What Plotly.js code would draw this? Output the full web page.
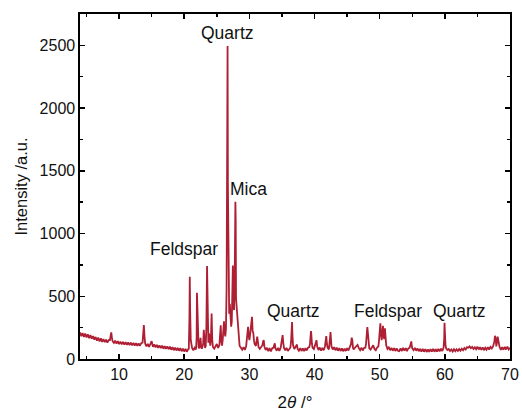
<!DOCTYPE html>
<html>
<head>
<meta charset="utf-8">
<script src="https://cdn.plot.ly/plotly-3.0.1.min.js"></script>
<style>html,body{margin:0;padding:0;background:#fff;}#chart{width:522px;height:412px;}</style>
</head>
<body>
<div id="chart"></div>
<script>
// 2-theta positions (degrees)
const twoTheta = [
  4.0,4.2,4.4,4.6,4.8,5.0,5.2,5.4,5.6,5.8,
  6.0,6.2,6.4,6.6,6.8,7.0,7.2,7.4,7.6,7.8,
  8.0,8.2,8.4,8.6,8.7,8.8,8.9,9.0,9.2,9.4,
  9.6,9.8,10.0,10.2,10.4,10.6,10.8,11.0,11.2,11.4,
  11.6,11.8,12.0,12.2,12.4,12.6,12.8,13.0,13.2,13.4,
  13.6,13.7,13.8,13.9,14.0,14.2,14.4,14.6,14.8,14.9,
  15.0,15.1,15.2,15.4,15.6,15.8,16.0,16.2,16.4,16.6,
  16.8,17.0,17.2,17.4,17.6,17.8,18.0,18.2,18.4,18.6,
  18.8,19.0,19.2,19.4,19.6,19.8,20.0,20.2,20.4,20.6,
  20.7,20.8,20.85,20.9,21.0,21.1,21.2,21.4,21.6,21.8,
  21.9,21.95,22.0,22.1,22.2,
  22.3,22.4,22.5,22.6,22.7,22.8,22.9,23.0,23.1,23.2,
  23.3,23.4,23.5,23.6,23.7,23.8,23.9,24.0,24.1,24.2,
  24.3,24.4,24.6,24.8,25.0,25.2,25.4,25.5,25.6,25.7,
  25.8,25.9,26.0,26.1,26.2,26.3,26.4,26.5,26.6,26.65,
  26.7,26.8,26.9,27.0,27.1,27.2,27.3,27.4,27.46,27.55,
  27.65,27.75,27.85,27.9,27.95,28.05,28.15,28.3,28.5,28.7,
  28.9,29.1,29.3,29.5,29.6,29.7,29.8,29.9,30.0,30.1,
  30.2,30.3,30.4,30.5,30.6,30.7,30.8,31.0,31.1,31.2,
  31.3,31.4,31.6,31.8,32.0,32.1,32.2,32.3,32.5,32.7,
  32.9,33.1,33.3,33.5,33.7,33.8,33.9,34.0,34.2,34.4,
  34.6,34.8,34.9,35.0,35.1,35.2,35.3,35.5,35.7,35.9,
  36.1,36.3,36.4,36.5,36.55,36.6,36.7,36.9,37.1,37.2,
  37.3,37.4,37.6,37.8,38.0,38.2,38.4,38.6,38.8,39.0,
  39.2,39.3,39.4,39.45,39.5,39.6,39.7,39.9,40.1,40.2,
  40.3,40.4,40.6,40.8,41.0,41.2,41.4,41.6,41.7,41.8,
  41.9,42.0,42.2,42.3,42.4,42.45,42.5,42.6,42.8,43.0,
  43.2,43.4,43.6,43.8,44.0,44.2,44.4,44.6,44.8,45.0,
  45.2,45.4,45.6,45.7,45.8,45.9,46.0,46.2,46.4,46.6,
  46.8,47.0,47.2,47.4,47.6,47.8,47.9,48.0,48.1,48.2,
  48.3,48.4,48.6,48.8,49.0,49.2,49.4,49.6,49.8,49.9,
  50.0,50.1,50.2,50.3,50.4,50.5,50.6,50.7,50.8,50.9,
  51.0,51.2,51.4,51.6,51.8,52.0,52.2,52.4,52.6,52.8,
  53.0,53.2,53.4,53.6,53.8,54.0,54.2,54.4,54.6,54.7,
  54.8,54.85,54.9,55.0,55.2,55.4,55.6,55.8,56.0,56.2,
  56.4,56.6,56.8,57.0,57.2,57.4,57.6,57.8,58.0,58.2,
  58.4,58.6,58.8,59.0,59.2,59.4,59.6,59.8,59.9,59.95,
  60.0,60.1,60.2,60.4,60.6,60.8,61.0,61.2,61.4,61.6,
  61.8,62.0,62.2,62.4,62.6,62.8,63.0,63.2,63.4,63.6,
  63.8,64.0,64.2,64.4,64.6,64.8,65.0,65.2,65.4,65.6,
  65.8,66.0,66.2,66.4,66.6,66.8,67.0,67.2,67.4,67.6,
  67.7,67.8,67.9,68.0,68.1,68.2,68.3,68.4,68.6,68.8,
  69.0,69.2,69.4,69.6,69.8,70.0
];
// Intensity (a.u.)
const intensity = [
  212,182,206,176,202,172,196,166,190,162,
  182,154,176,146,170,140,164,136,158,134,
  154,130,150,150,185,212,170,142,128,146,
  122,142,118,138,116,136,114,134,112,132,
  110,130,108,128,106,127,104,124,106,126,
  130,210,270,180,124,100,120,96,116,125,
  142,118,98,116,92,112,88,108,86,106,
  82,102,80,100,78,98,74,94,70,90,
  68,88,66,86,62,82,60,80,58,78,
  80,330,655,400,150,95,88,70,90,76,
  160,528,390,130,96,
  84,112,168,96,82,98,120,232,110,88,
  104,260,742,300,130,205,140,106,170,362,
  150,96,82,100,120,88,112,190,268,140,
  106,150,230,300,210,180,240,560,1800,2494,
  1400,450,360,440,330,257,300,520,745,420,
  390,700,1254,1100,480,410,350,200,104,90,
  74,94,72,102,150,200,257,180,150,190,
  250,330,337,220,207,150,120,104,150,178,
  140,96,80,96,110,140,151,100,72,90,
  62,88,60,86,90,110,125,85,66,88,
  64,90,120,160,191,130,90,70,88,64,
  84,92,140,250,295,200,110,80,96,105,
  115,80,66,86,64,84,62,86,68,90,
  95,120,180,222,200,120,90,80,110,140,
  150,100,72,92,66,88,70,100,150,182,
  120,90,76,110,180,215,170,100,76,94,
  70,90,66,86,64,84,62,82,64,86,
  68,88,120,170,150,90,76,90,100,112,
  86,70,90,68,88,90,120,180,255,200,
  120,86,76,98,110,80,70,92,100,150,
  230,284,200,150,200,265,180,160,245,170,
  110,80,92,70,88,66,86,64,84,66,
  62,84,64,88,66,86,68,84,90,110,
  130,140,115,84,70,88,66,84,62,80,
  60,80,58,78,56,76,58,78,60,80,
  58,78,60,80,62,82,64,90,160,289,
  220,110,85,72,80,64,76,60,78,62,
  78,64,80,66,82,70,88,76,95,90,
  100,86,96,80,94,78,98,76,94,74,
  92,70,90,74,94,76,96,84,100,140,
  185,160,100,130,178,150,110,95,72,94,
  74,96,76,98,76,90
];
// Phase labels and their positions (2theta, intensity)
const phaseLabels = ["Quartz", "Mica", "Feldspar", "Quartz", "Feldspar", "Quartz"];
const labelX = [26.7, 29.9, 20.0, 36.7, 51.3, 62.2];
const labelY = [2600, 1355, 875, 380, 380, 380];

const fontFam = '"Liberation Sans", Arial, sans-serif';

const trace = {
  x: twoTheta, y: intensity, type: 'scatter', mode: 'lines',
  line: {color: '#AE1F33', width: 1.8}, hoverinfo: 'skip'
};

const annotations = phaseLabels.map((t, i) => ({
  text: t, x: labelX[i], y: labelY[i], xref: 'x', yref: 'y',
  showarrow: false, xanchor: 'center', yanchor: 'middle',
  font: {family: fontFam, size: 17.5, color: '#111'}
}));

const axisCommon = {
  showgrid: false, zeroline: false, showline: true, linecolor: '#000', linewidth: 1.6,
  mirror: 'ticks', ticks: 'inside', ticklen: 5, tickwidth: 1.5, tickcolor: '#000',
  tickfont: {family: fontFam, size: 16, color: '#111'}
};

const layout = {
  width: 522, height: 412,
  margin: {l: 80, r: 12, t: 14, b: 53},
  paper_bgcolor: '#fff', plot_bgcolor: '#fff',
  showlegend: false,
  xaxis: Object.assign({}, axisCommon, {
    range: [4, 70], tick0: 0, dtick: 10,
    minor: {dtick: 5, tick0: 0, ticks: 'inside', ticklen: 3, tickwidth: 1.5, tickcolor: '#000'},
    title: {text: '2<i>θ</i> /°', font: {family: fontFam, size: 17, color: '#111'}, standoff: 29}
  }),
  yaxis: Object.assign({}, axisCommon, {
    range: [0, 2750], tick0: 0, dtick: 500,
    minor: {dtick: 250, tick0: 0, ticks: 'inside', ticklen: 3, tickwidth: 1.5, tickcolor: '#000'},
    title: {text: 'Intensity /a.u.', font: {family: fontFam, size: 16.5, color: '#111'}, standoff: 8}
  }),
  annotations: annotations
};

Plotly.newPlot('chart', [trace], layout, {displayModeBar: false, staticPlot: true});
</script>
</body>
</html>
